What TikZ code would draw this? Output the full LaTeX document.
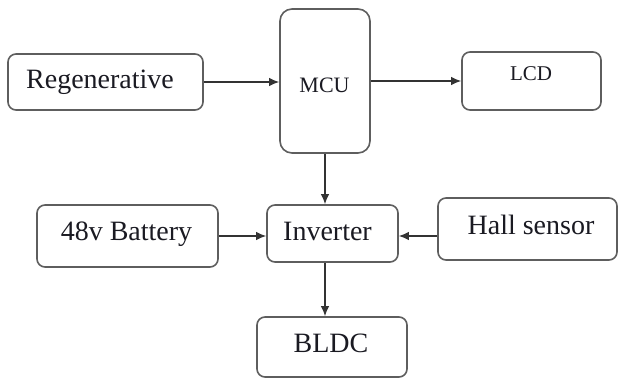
\documentclass[tikz,border=0pt]{standalone}
\usepackage{fontspec}
\setmainfont{Liberation Serif}
\usetikzlibrary{arrows.meta}
\definecolor{boxline}{HTML}{5E5E5E}
\definecolor{arrline}{HTML}{333333}
\definecolor{txtcol}{HTML}{1A1A22}
\tikzset{
  blk/.style={draw=boxline, line width=1.6pt, rounded corners=8pt, inner sep=0pt, fill=white},
  lbl/.style={anchor=base, inner sep=0pt, text=txtcol, font=\fontsize{28}{30}\selectfont},
  lblsm/.style={anchor=base, inner sep=0pt, text=txtcol, font=\fontsize{22}{24}\selectfont},
  arr/.style={draw=arrline, line width=1.3pt, -{Latex[length=10pt,width=8.5pt]}}
}
\begin{document}
\begin{tikzpicture}[x=1pt,y=-1pt]
\useasboundingbox (0,0) rectangle (620,380);
% boxes
\node[blk, minimum width=195pt, minimum height=56pt] (regen) at (105.5,82) {};
\node[blk, rounded corners=12pt, minimum width=90pt, minimum height=144pt] (mcu) at (325,81) {};
\node[blk, minimum width=139pt, minimum height=58pt] (lcd) at (531.5,81) {};
\node[blk, minimum width=181pt, minimum height=62pt] (bat) at (127.5,236) {};
\node[blk, minimum width=131pt, minimum height=57pt] (inv) at (332.5,233.5) {};
\node[blk, minimum width=179pt, minimum height=62pt] (hall) at (527.5,229) {};
\node[blk, minimum width=150pt, minimum height=60pt] (bldc) at (332,347) {};
% texts
\node[lbl] (regent) at (100,88) {Regenerative};
\node[lblsm] (mcut) at (324.5,92) {MCU};
\node[lblsm, font=\fontsize{21}{23}\selectfont] (lcdt) at (531,80) {LCD};
\node[lbl] (batt) at (126.5,240) {48v Battery};
\node[lbl] (invt) at (327.5,240) {Inverter};
\node[lbl] (hallt) at (531,234) {Hall sensor};
\node[lbl] (bldct) at (331,352) {BLDC};
% connectors
\draw[arr] (regen.east) -- (regen.east -| mcu.west);
\draw[arr] (mcu.east) -- (mcu.east -| lcd.west);
\draw[arr] (mcu.south) -- (mcu.south |- inv.north);
\draw[arr] (bat.east) -- (bat.east -| inv.west);
\draw[arr] (bat.east -| hall.west) -- (bat.east -| inv.east);
\draw[arr] (mcu.south |- inv.south) -- (mcu.south |- bldc.north);
\end{tikzpicture}
\end{document}
